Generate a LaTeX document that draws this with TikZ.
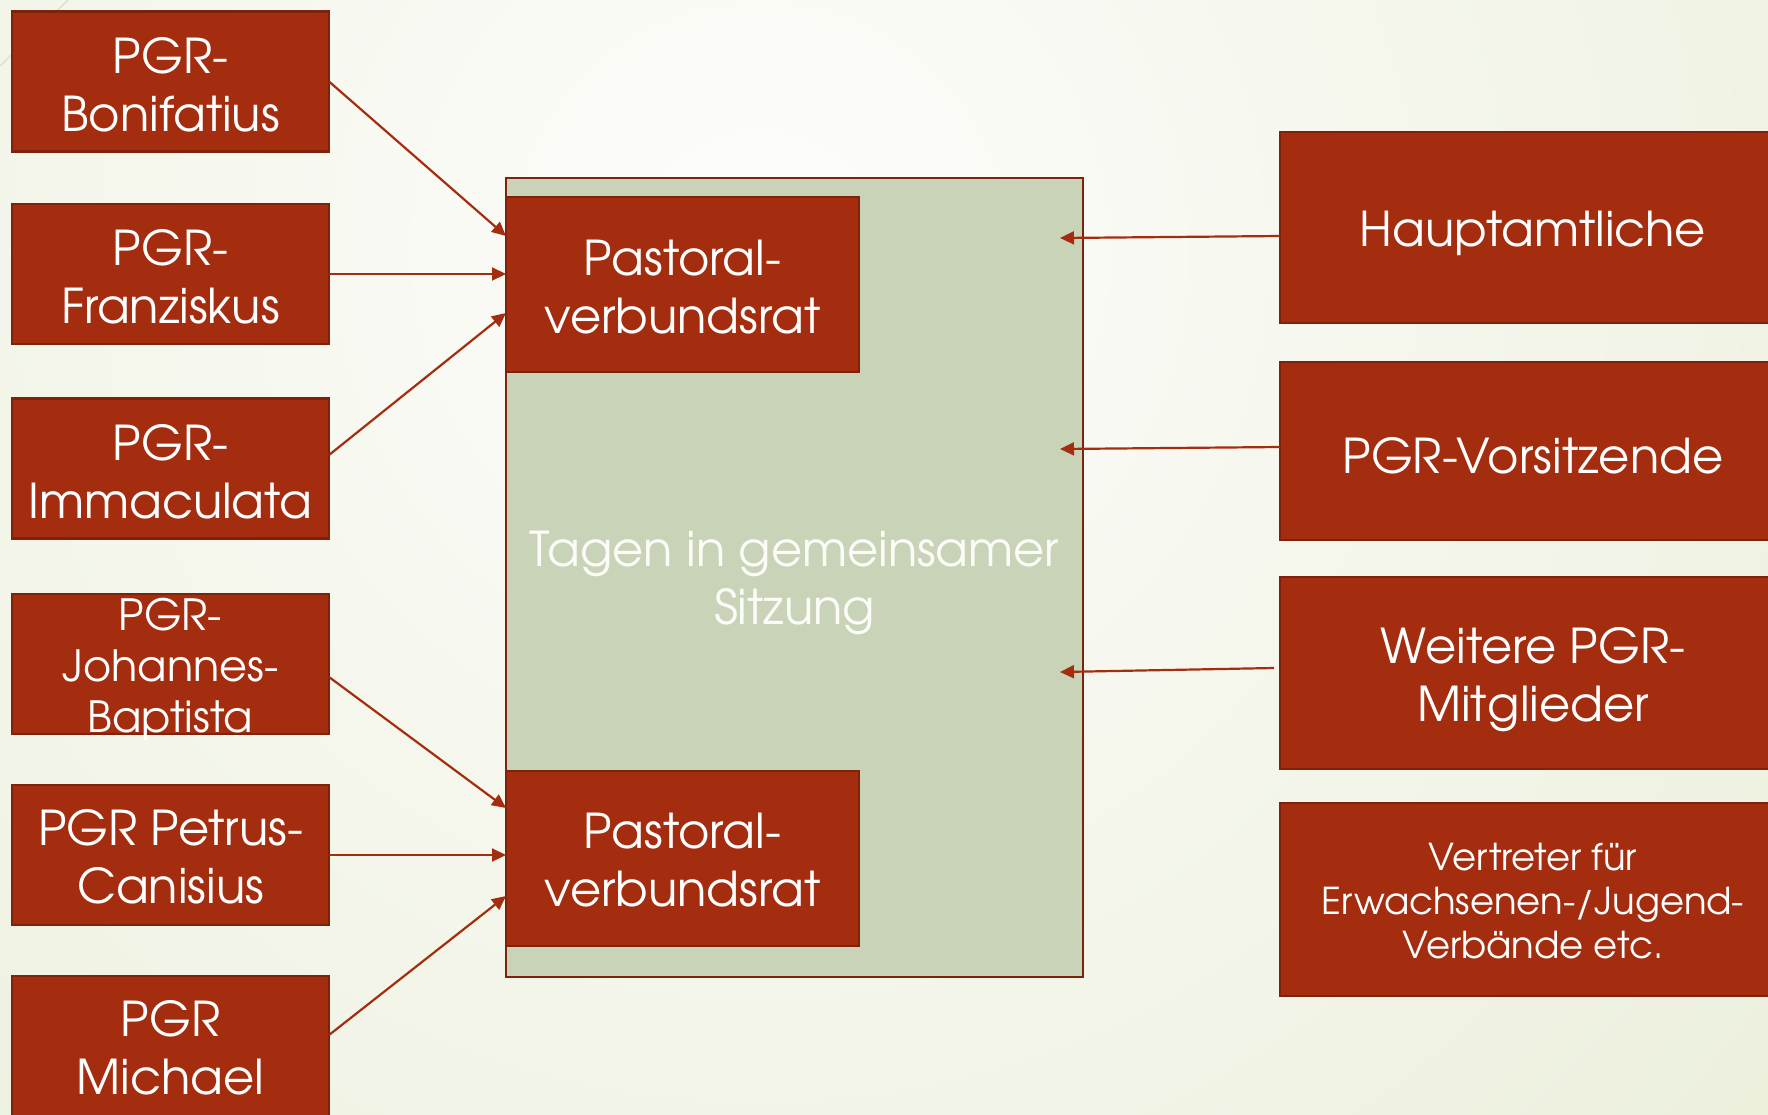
\documentclass[tikz,border=0pt]{standalone}
\usepackage{fontspec}
\setmainfont{TeX Gyre Adventor}
\usetikzlibrary{arrows.meta,calc}
\definecolor{rust}{HTML}{A52D0F}
\definecolor{rustdark}{HTML}{7E220C}
\definecolor{sage}{HTML}{C9D3B7}
\definecolor{bgout}{HTML}{E2E8CB}
\definecolor{bgin}{HTML}{FDFDFB}
\definecolor{softwhite}{HTML}{FBFBF7}
\definecolor{deco}{HTML}{D3DABF}
\begin{document}
\begin{tikzpicture}[x=1pt,y=-1pt,
  boxtext/.style={text=white, align=center, inner sep=0pt, yshift=-5pt,
    font=\fontsize{48}{58}\selectfont},
  smalltext/.style={boxtext, font=\fontsize{43}{51}\selectfont},
  tinytext/.style={boxtext, font=\fontsize{37}{44}\selectfont},
  box/.style={draw=rustdark, fill=rust, line width=2.5pt, inner sep=0pt, outer sep=0pt},
  lbox/.style={box, minimum width=317pt, minimum height=140pt},
  rbox/.style={box, minimum width=506pt},
  pvbox/.style={box, minimum width=353pt, minimum height=175pt},
  arr/.style={draw=rust, line width=2.2pt, -{Triangle[length=14pt,width=13pt]}}]
\useasboundingbox (0,0) rectangle (1768,1114);
\begin{scope}
\clip (0,0) rectangle (1768,1114);
\fill[bgout] (0,0) rectangle (1768,1114);
\shade[inner color=bgin, outer color=bgout] (760,250) circle (2100pt);
\draw[deco, line width=1pt] (0,66) -- (68,0);

% big box
\node[draw=rustdark, fill=sage, line width=2.5pt, inner sep=0pt, outer sep=0pt,
  minimum width=577pt, minimum height=799pt,
  label={[boxtext, text=softwhite]center:{Tagen in gemeinsamer\\Sitzung}}] (big) at (794.5,577.5) {};

\node[pvbox, label={[boxtext, yshift=2pt]center:{Pastoral-\\verbundsrat}}] (pv1) at (682.5,284.5) {};
\node[pvbox, label={[boxtext, yshift=3pt]center:{Pastoral-\\verbundsrat}}] (pv2) at (682.5,858.5) {};

% left boxes
\node[lbox, label={[boxtext, yshift=2pt]center:{PGR-\\Bonifatius}}] (bon) at (170.5,81.5) {};
\node[lbox, label={[boxtext, yshift=2pt]center:{PGR-\\Franziskus}}] (fra) at (170.5,274) {};
\node[lbox, label={[boxtext, yshift=2pt]center:{PGR-\\Immaculata}}] (imm) at (170.5,468.5) {};
\node[lbox, label={[smalltext]center:{PGR-\\Johannes-\\Baptista}}] (joh) at (170.5,664) {};
\node[lbox, label={[boxtext, yshift=3pt]center:{PGR Petrus-\\Canisius}}] (pet) at (170.5,855) {};
\node[lbox, label={[boxtext, yshift=3pt]center:{PGR\\Michael}}] (mic) at (170.5,1046) {};

% right boxes
\node[rbox, minimum height=191pt, label={[boxtext, yshift=-1pt]center:{Hauptamtliche}}] (hau) at (1533,227.5) {};
\node[rbox, minimum height=178pt, label={[boxtext]center:{PGR-Vorsitzende}}] (vor) at (1533,451) {};
\node[rbox, minimum height=192pt, label={[boxtext, yshift=-2pt]center:{Weitere PGR-\\Mitglieder}}] (wei) at (1533,673) {};
\node[rbox, minimum height=193pt, label={[tinytext, yshift=3pt]center:{Vertreter für\\Erwachsenen-/Jugend-\\Verbände etc.}}] (ver) at (1533,899.5) {};

% arrow targets
\coordinate (pa1) at (506,236);
\coordinate (pa2) at (506,274);
\coordinate (pa3) at (506,313);
\coordinate (pb1) at (506,808);
\coordinate (pb2) at (506,855);
\coordinate (pb3) at (506,896);
\coordinate (ra1) at (1060,238);
\coordinate (ra2) at (1060,449);
\coordinate (ra3) at (1060,672);

\draw[arr] (bon.east) -- (pa1);
\draw[arr] (fra.east) -- (pa2);
\draw[arr] ([yshift=13.5pt]imm.east) -- (pa3);
\draw[arr] ([yshift=-13pt]joh.east) -- (pb1);
\draw[arr] (pet.east) -- (pb2);
\draw[arr] ([yshift=11pt]mic.east) -- (pb3);

\draw[arr] ([yshift=-8.5pt]hau.west) -- (ra1);
\draw[arr] ([yshift=4pt]vor.west) -- (ra2);
\draw[arr] ([xshift=-6pt,yshift=5pt]wei.west) -- (ra3);
\end{scope}
\end{tikzpicture}
\end{document}
